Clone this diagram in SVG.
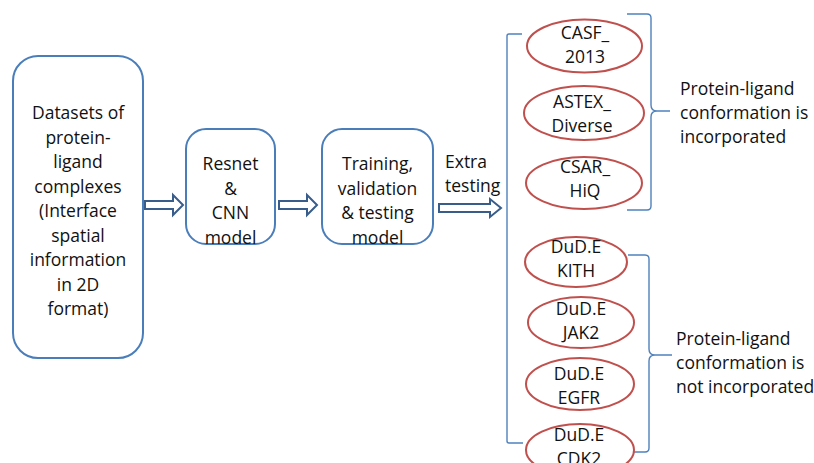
<svg xmlns="http://www.w3.org/2000/svg" width="814" height="463" viewBox="0 0 814 463">
  <style>
    .box { fill: #ffffff; stroke: #4a7ebb; stroke-width: 2; }
    .ds { fill: #ffffff; stroke: #c0504d; stroke-width: 2; }
    .arrow { fill: #ffffff; stroke: #385d8a; stroke-width: 2; stroke-linejoin: miter; }
    .brace { fill: none; stroke: #4f81bd; stroke-width: 1.4; }
    text { font-family: "Open Sans", "Noto Sans", "Liberation Sans", sans-serif; font-size: 17.5px; fill: #111111; }
    .c { text-anchor: middle; }
  </style>
  <rect width="814" height="463" fill="#ffffff"/>

  <!-- pipeline boxes -->
  <g id="datasets">
    <rect class="box" x="13" y="56" width="130" height="302" rx="25" ry="25"/>
    <text class="c" x="78" y="119">Datasets of</text>
    <text class="c" x="78" y="143.5">protein-</text>
    <text class="c" x="78" y="168">ligand</text>
    <text class="c" x="78" y="192.5">complexes</text>
    <text class="c" x="78" y="217">(Interface</text>
    <text class="c" x="78" y="241.5">spatial</text>
    <text class="c" x="78" y="266">information</text>
    <text class="c" x="78" y="290.5">in 2D</text>
    <text class="c" x="78" y="315">format)</text>
  </g>
  <g id="model">
    <rect class="box" x="186" y="129" width="89" height="115" rx="20" ry="20"/>
    <text class="c" x="230.5" y="170">Resnet</text>
    <text class="c" x="230.5" y="194.5">&amp;</text>
    <text class="c" x="230.5" y="219">CNN</text>
    <text class="c" x="230.5" y="243.5">model</text>
  </g>
  <g id="training">
    <rect class="box" x="322" y="129" width="111" height="115" rx="20" ry="20"/>
    <text class="c" x="377.5" y="170">Training,</text>
    <text class="c" x="377.5" y="194.5">validation</text>
    <text class="c" x="377.5" y="219">&amp; testing</text>
    <text class="c" x="377.5" y="243.5">model</text>
  </g>

  <!-- block arrows, brackets and braces -->
  <g id="connectors">
    <polygon class="arrow" points="145,201 173,201 173,195 183,205 173,215 173,209 145,209"/>
    <polygon class="arrow" points="279,201 307,201 307,195 317,205 307,215 307,209 279,209"/>
    <polygon class="arrow" points="439,204 490,204 490,199 501,208 490,217 490,212 439,212"/>
    <text x="445" y="168">Extra</text>
    <text x="445" y="192">testing</text>

    <path class="brace" d="M522,34 L509,34 Q507,34 507,36 L507,441 Q507,443 509,443 L523,443"/>

    <path class="brace" d="M627,14 L647,14 Q651,14 651,18 L651,105 Q651,111 657,111 L670,111 M657,111 Q651,111 651,117 L651,206 Q651,210 647,210 L627,210"/>
    <path class="brace" d="M628,255 L645,255 Q649,255 649,259 L649,349 Q649,355 655,355 L672,355 M655,355 Q649,355 649,361 L649,448 Q649,452 645,452 L630,452"/>
  </g>

  <!-- benchmark datasets -->
  <g id="casf">
    <ellipse class="ds" cx="584.5" cy="46" rx="57.5" ry="26.5"/>
    <text class="c" x="585" y="39">CASF_</text>
    <text class="c" x="585" y="63">2013</text>
  </g>
  <g id="astex">
    <ellipse class="ds" cx="584" cy="113" rx="60" ry="27"/>
    <text class="c" x="582" y="108">ASTEX_</text>
    <text class="c" x="582" y="132">Diverse</text>
  </g>
  <g id="csar">
    <ellipse class="ds" cx="584" cy="183" rx="58" ry="26"/>
    <text class="c" x="585" y="173">CSAR_</text>
    <text class="c" x="585" y="197">HiQ</text>
  </g>
  <g id="kith">
    <ellipse class="ds" cx="576" cy="262" rx="51" ry="25"/>
    <text class="c" x="576" y="253">DuD.E</text>
    <text class="c" x="576" y="277">KITH</text>
  </g>
  <g id="jak2">
    <ellipse class="ds" cx="581" cy="322.5" rx="53" ry="25.5"/>
    <text class="c" x="581" y="315">DuD.E</text>
    <text class="c" x="581" y="339">JAK2</text>
  </g>
  <g id="egfr">
    <ellipse class="ds" cx="580" cy="384" rx="54" ry="26"/>
    <text class="c" x="579" y="380">DuD.E</text>
    <text class="c" x="579" y="404">EGFR</text>
  </g>
  <g id="cdk2">
    <ellipse class="ds" cx="580" cy="450" rx="54" ry="26"/>
    <text class="c" x="579" y="441">DuD.E</text>
    <text class="c" x="579" y="465">CDK2</text>
  </g>

  <!-- group labels -->
  <g id="label-incorporated">
    <text x="680" y="95">Protein-ligand</text>
    <text x="680" y="119">conformation is</text>
    <text x="680" y="143">incorporated</text>
  </g>
  <g id="label-not-incorporated">
    <text x="676" y="345">Protein-ligand</text>
    <text x="676" y="369">conformation is</text>
    <text x="676" y="393">not incorporated</text>
  </g>
</svg>
